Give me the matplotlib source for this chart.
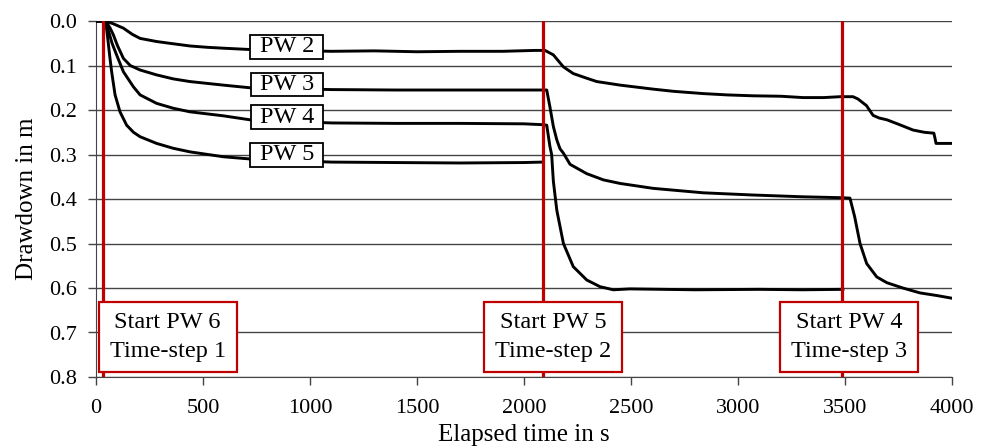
import matplotlib

matplotlib.use("Agg")
import matplotlib.pyplot as plt
from matplotlib.path import Path

# values (elapsed time in s, drawdown in m)
pw2_t = [0, 45, 80, 128, 170, 206, 283, 360, 439, 520, 595, 720, 1100, 1300, 1500, 1700,
         1900, 2050, 2098, 2137, 2184, 2230, 2290, 2340, 2449, 2603, 2700, 2837,
         2950, 3070, 3200, 3304, 3400, 3477, 3537, 3560, 3600, 3631, 3660, 3696, 3750,
         3818, 3870, 3915, 3921, 3925, 4000]
pw2_d = [0, 0, 0.006, 0.016, 0.030, 0.039, 0.046, 0.051, 0.056, 0.059, 0.061, 0.064,
         0.068, 0.067, 0.069, 0.068, 0.068, 0.066, 0.066, 0.076, 0.103, 0.118, 0.128,
         0.136, 0.144, 0.153, 0.158, 0.163, 0.166, 0.168, 0.169, 0.172, 0.172, 0.170,
         0.170, 0.175, 0.190, 0.212, 0.218, 0.222, 0.232, 0.245, 0.250, 0.252, 0.265,
         0.275, 0.275]

pw3_t = [0, 45, 65, 81, 100, 128, 160, 206, 283, 361, 439, 595, 720, 1100, 1400, 1700,
         2000, 2090, 2106, 2121, 2137, 2153, 2168, 2184, 2215, 2293, 2371, 2449, 2603,
         2837, 3070, 3304, 3480, 3523, 3545, 3570, 3601, 3648, 3695, 3770, 3850, 3930,
         4000]
pw3_d = [0, 0, 0.015, 0.031, 0.055, 0.084, 0.100, 0.110, 0.121, 0.130, 0.136, 0.144,
         0.150, 0.154, 0.155, 0.155, 0.155, 0.155, 0.155, 0.193, 0.237, 0.267, 0.287,
         0.297, 0.322, 0.343, 0.357, 0.365, 0.376, 0.386, 0.391, 0.395, 0.397, 0.398,
         0.440, 0.500, 0.545, 0.575, 0.588, 0.600, 0.611, 0.617, 0.623]

pw4_t = [0, 45, 60, 75, 96, 128, 175, 206, 283, 361, 439, 595, 720, 1100, 1400, 1700,
         2000, 2090, 2106, 2121, 2129, 2137, 2153, 2184, 2230, 2293, 2355, 2417, 2495,
         2800, 3100, 3300, 3490]
pw4_d = [0, 0, 0.025, 0.050, 0.076, 0.114, 0.148, 0.166, 0.185, 0.196, 0.204, 0.213,
         0.222, 0.229, 0.230, 0.230, 0.231, 0.233, 0.234, 0.282, 0.300, 0.360, 0.425,
         0.500, 0.552, 0.582, 0.597, 0.604, 0.602, 0.604, 0.603, 0.604, 0.603]

pw5_t = [0, 45, 55, 65, 73, 89, 112, 143, 175, 206, 283, 361, 439, 595, 720, 1100, 1400,
         1700, 2000, 2085]
pw5_d = [0, 0, 0.040, 0.083, 0.114, 0.166, 0.204, 0.234, 0.250, 0.260, 0.275, 0.286,
         0.294, 0.305, 0.310, 0.317, 0.318, 0.319, 0.318, 0.317]

labels = ["PW 2", "PW 3", "PW 4", "PW 5"]
label_t = 892
label_d = [0.058, 0.142, 0.216, 0.301]

starts = [34, 2090, 3484]
start_text = ["Start PW 6\nTime-step 1", "Start PW 5\nTime-step 2", "Start PW 4\nTime-step 3"]
box_t = [335, 2137, 3518]
box_d = 0.71

RED = "#c00000"
plt.rcParams["font.family"] = ["Liberation Serif", "DejaVu Serif"]


def rect_box(px, py):
    """Square box with separate x / y padding (fractions of font size)."""
    def style(x0, y0, width, height, mutation_size):
        dx, dy = px * mutation_size, py * mutation_size
        x0, y0 = x0 - dx, y0 - dy
        x1, y1 = x0 + width + 2 * dx, y0 + height + 2 * dy
        return Path([(x0, y0), (x1, y0), (x1, y1), (x0, y1), (x0, y0)], closed=True)
    return style


fig = plt.figure(figsize=(9.91, 4.48), dpi=100)
ax = fig.add_axes([0.0969, 0.1585, 0.8638, 0.7945])

for t, d in [(pw2_t, pw2_d), (pw3_t, pw3_d), (pw4_t, pw4_d), (pw5_t, pw5_d)]:
    ax.plot(t, d, color="black", lw=2.1, zorder=3, solid_joinstyle="round")

for lab, y in zip(labels, label_d):
    ax.text(label_t, y, lab, ha="center", va="center", fontsize=17.5, zorder=5,
            bbox=dict(boxstyle=rect_box(0.38, 0.05), fc="white", ec="black", lw=1.3))

for x, s, bx in zip(starts, start_text, box_t):
    ax.axvline(x, color=RED, lw=2.3, zorder=4)
    ax.text(bx, box_d, s, ha="center", va="center", fontsize=17.5, zorder=6,
            linespacing=1.45,
            bbox=dict(boxstyle=rect_box(0.45, 0.42), fc="white", ec=RED, lw=1.6))

ax.set_xlim(0, 4000)
ax.set_ylim(0.8, 0.0)
ax.set_xticks(range(0, 4001, 500))
ax.set_yticks([i / 10 for i in range(9)])
ax.set_yticklabels([f"{i / 10:.1f}" for i in range(9)])
ax.yaxis.grid(True, color="#444444", lw=1.0)
ax.set_axisbelow(True)
ax.tick_params(axis="both", labelsize=16, length=6, width=1.0, color="#444444")
ax.tick_params(axis="y", pad=8)
ax.tick_params(axis="x", pad=10)
for side in ["top", "right"]:
    ax.spines[side].set_visible(False)
for side in ["left", "bottom"]:
    ax.spines[side].set_color("#444444")
ax.set_xlabel("Elapsed time in s", fontsize=18, labelpad=4)
ax.set_ylabel("Drawdown in m", fontsize=18, labelpad=8)

fig.savefig("out.png", dpi=100)
